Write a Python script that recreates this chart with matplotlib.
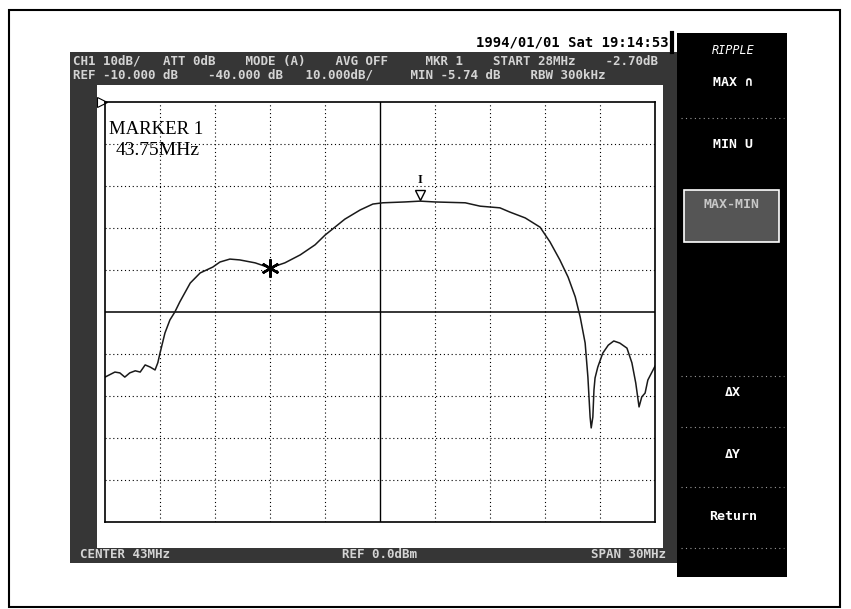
import matplotlib.pyplot as plt
from matplotlib.patches import Rectangle

# trace, in screen divisions (10 x 10 graticule)
freq_div = [0.00, 0.18, 0.27, 0.36, 0.45, 0.55, 0.64, 0.73, 0.82, 0.91, 0.96,
            1.00, 1.09, 1.18, 1.27, 1.36, 1.55, 1.73, 1.96, 2.09, 2.27, 2.45,
            2.73, 3.00, 3.27, 3.55, 3.82, 4.00, 4.18, 4.36, 4.64, 4.87, 5.05,
            5.45, 5.73, 6.00, 6.55, 6.82, 7.18, 7.36, 7.64, 7.91, 8.09, 8.27,
            8.42, 8.55, 8.64, 8.73, 8.78, 8.82, 8.84, 8.87, 8.89, 8.91, 8.96,
            9.05, 9.15, 9.25, 9.36, 9.49, 9.58, 9.65, 9.71, 9.76, 9.82, 9.87,
            10.00]
level_div = [3.45, 3.57, 3.55, 3.45, 3.55, 3.60, 3.57, 3.74, 3.69, 3.62, 3.79,
             4.02, 4.50, 4.81, 5.00, 5.24, 5.69, 5.93, 6.07, 6.19, 6.26, 6.24,
             6.17, 6.05, 6.17, 6.36, 6.60, 6.83, 7.02, 7.21, 7.43, 7.57, 7.60,
             7.62, 7.64, 7.62, 7.60, 7.52, 7.48, 7.38, 7.24, 7.02, 6.67, 6.24,
             5.83, 5.36, 4.88, 4.26, 3.45, 2.50, 2.24, 2.50, 3.14, 3.43, 3.69,
             4.02, 4.21, 4.31, 4.26, 4.14, 3.79, 3.31, 2.74, 2.98, 3.07, 3.38,
             3.71]

marker_freq, marker_level = 3.00, 6.05
peak_freq, peak_level = 5.73, 7.64

header_row1 = "CH1 10dB/   ATT 0dB    MODE (A)    AVG OFF     MKR 1    START 28MHz    -2.70dB"
header_row2 = "REF -10.000 dB    -40.000 dB   10.000dB/     MIN -5.74 dB    RBW 300kHz"
footer_left = "CENTER 43MHz"
footer_mid = "REF 0.0dBm"
footer_right = "SPAN 30MHz"
timestamp = "1994/01/01 Sat 19:14:53"
menu_items = ["MAX \u2229", "MIN U", "MAX-MIN", "\u0394X", "\u0394Y", "Return"]

W, H = 851, 609
fig = plt.figure(figsize=(W / 100, H / 100), dpi=100)
fig.patch.set_facecolor("white")

# background axes in pixel coordinates for the instrument screen
bg = fig.add_axes([0, 0, 1, 1])
bg.set_xlim(0, W)
bg.set_ylim(H, 0)
bg.axis("off")

dark = "#363636"
mono = "DejaVu Sans Mono"
pale = "#d4d4d4"

# page border
bg.add_patch(Rectangle((9, 10), 831, 597, fill=False, ec="black", lw=1.5))

# dithered screen frame
bg.add_patch(Rectangle((70, 52), 607, 511, fc=dark, ec="none"))
bg.add_patch(Rectangle((97, 85), 566, 463, fc="white", ec="none"))
bg.plot([672, 672], [33, 52], color="black", lw=3)

bg.text(669, 43, timestamp, ha="right", va="center", family=mono,
        fontsize=10, fontweight="bold", color="black")
bg.text(73, 61, header_row1, ha="left", va="center", family=mono,
        fontsize=9, fontweight="bold", color=pale)
bg.text(73, 75, header_row2, ha="left", va="center", family=mono,
        fontsize=9, fontweight="bold", color=pale)
bg.text(80, 555, footer_left, ha="left", va="center", family=mono,
        fontsize=9, fontweight="bold", color=pale)
bg.text(380, 555, footer_mid, ha="center", va="center", family=mono,
        fontsize=9, fontweight="bold", color=pale)
bg.text(666, 555, footer_right, ha="right", va="center", family=mono,
        fontsize=9, fontweight="bold", color=pale)

# soft-key menu
bg.add_patch(Rectangle((677, 33), 110, 544, fc="black", ec="none"))
bg.text(733, 50, "RIPPLE", ha="center", va="center", family=mono,
        fontsize=8.5, fontstyle="italic", color="white")
menu_y = [83, 145, 216, 393, 455, 516]
for label, y in zip(menu_items, menu_y):
    if label == "MAX-MIN":
        bg.add_patch(Rectangle((684, 190), 95, 52, fc="#555555", ec="white", lw=1.2))
        bg.text(731, 205, label, ha="center", va="center", family=mono,
                fontsize=9.5, fontweight="bold", color="#c8c8c8")
    else:
        bg.text(733, y, label, ha="center", va="center", family=mono,
                fontsize=9.5, fontweight="bold", color="white")
for y in [118, 376, 427, 487, 548]:
    bg.plot([681, 784], [y, y], color="#9a9a9a", lw=0.8, ls=(0, (1, 3)))

# graticule and trace
ax = fig.add_axes([105 / W, 1 - 522 / H, 550 / W, 420 / H])
ax.set_facecolor("white")
ax.set_xlim(0, 10)
ax.set_ylim(0, 10)
ax.set_xticks([])
ax.set_yticks([])
for s in ax.spines.values():
    s.set_linewidth(1.2)
for i in range(1, 10):
    if i == 5:
        ax.axhline(i, color="black", lw=1.1)
        ax.axvline(i, color="black", lw=1.0)
    else:
        ax.axhline(i, color="black", lw=0.8, ls=(0, (1, 2.5)))
        ax.axvline(i, color="black", lw=0.8, ls=(0, (1, 2.5)))

ax.plot(freq_div, level_div, color="#1a1a1a", lw=1.1)
ax.plot(marker_freq, marker_level, marker=(6, 2, 0), ms=13, mew=1.8,
        color="black")
ax.plot(peak_freq, peak_level + 0.15, marker="v", ms=7, mfc="white",
        mec="black", mew=1.0)
ax.text(peak_freq, peak_level + 0.5, "I", ha="center", va="center",
        family="Liberation Serif", fontsize=9, fontweight="bold")
ax.plot(-0.05, 10, marker=">", ms=7, mfc="white", mec="black", mew=0.8,
        clip_on=False)

ax.text(0.08, 9.35, "MARKER 1", ha="left", va="center",
        family="Liberation Serif", fontsize=13.5)
ax.text(0.2, 8.85, "43.75MHz", ha="left", va="center",
        family="Liberation Serif", fontsize=14)

fig.savefig("out.png", dpi=100)
